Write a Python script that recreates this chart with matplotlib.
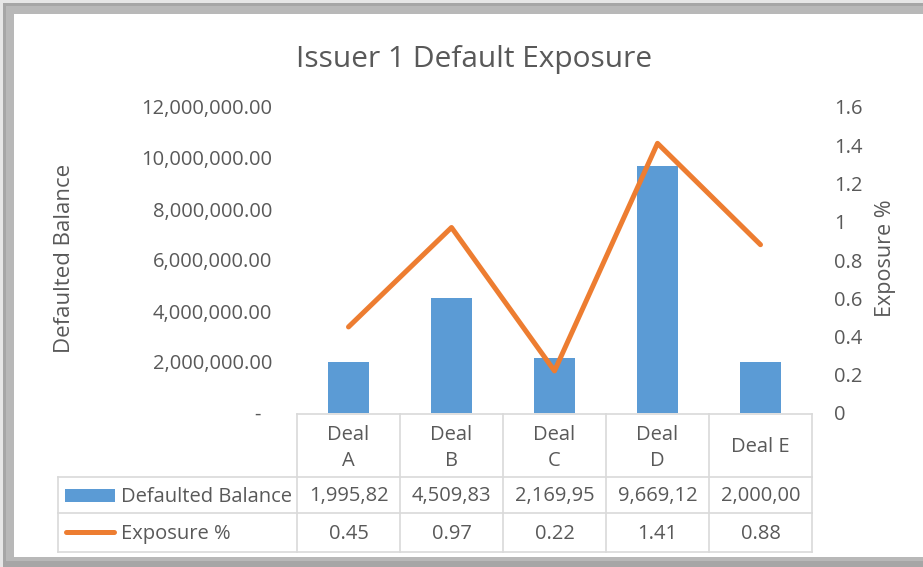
import matplotlib
matplotlib.use("Agg")
import matplotlib.pyplot as plt
from matplotlib.patches import Rectangle
from matplotlib.lines import Line2D

# ---------------- data ----------------
categories = ["Deal A", "Deal B", "Deal C", "Deal D", "Deal E"]
header_labels = ["Deal\nA", "Deal\nB", "Deal\nC", "Deal\nD", "Deal E"]
balances = [1995823, 4509834, 2169952, 9669125, 2000000]
exposure = [0.45, 0.97, 0.22, 1.41, 0.88]
left_ticks = [0, 2e6, 4e6, 6e6, 8e6, 10e6, 12e6]
right_ticks = [0, 0.2, 0.4, 0.6, 0.8, 1.0, 1.2, 1.4, 1.6]
right_tick_labels = ["0", "0.2", "0.4", "0.6", "0.8", "1", "1.2", "1.4", "1.6"]
series_names = ["Defaulted Balance", "Exposure %"]
title = "Issuer 1 Default Exposure"

# ---------------- style ----------------
W, H, DPI = 923, 567, 100
BLUE = "#5B9BD5"
ORANGE = "#ED7D31"
TXT = "#595959"
GRID = "#D9D9D9"
FONT = ["Open Sans", "DejaVu Sans"]
plt.rcParams["font.family"] = FONT

fig = plt.figure(figsize=(W / DPI, H / DPI), dpi=DPI)
fig.patch.set_facecolor("white")

def fx(x):
    return x / W

def fy(y):
    return 1 - y / H

# frame border (screenshot chrome)
border = fig.add_axes([0, 0, 1, 1], zorder=-5)
border.set_xlim(0, W)
border.set_ylim(H, 0)
border.axis("off")
border.add_patch(Rectangle((0, 0), W, H, color="#E6E6E6", lw=0))
border.add_patch(Rectangle((3, 3), W, H - 3, color="#A6A6A6", lw=0))
border.add_patch(Rectangle((6, 6), W, H - 6 - 6, color="#B8B8B8", lw=0))
border.add_patch(Rectangle((14, 14), W, H - 14 - 10, color="white", lw=0))

# plot area
PL, PR, PT, PB = 297, 812, 107, 413
ax = fig.add_axes([fx(PL), fy(PB), fx(PR - PL), (PB - PT) / H])
x = list(range(len(categories)))
ax.bar(x, balances, width=0.4, color=BLUE, zorder=2)
ax.set_xlim(-0.5, len(categories) - 0.5)
ax.set_ylim(0, 12e6)
ax.set_yticks(left_ticks)
ax.set_yticklabels([("-  " if v == 0 else f"{v:,.2f}") for v in left_ticks])
ax.set_xticks([])
ax.tick_params(axis="y", length=0, pad=18, labelsize=14.5, labelcolor=TXT)
for s in ax.spines.values():
    s.set_visible(False)
ax.patch.set_alpha(0)

ax2 = ax.twinx()
ax2.plot(x, exposure, color=ORANGE, lw=3.6, solid_capstyle="round",
         solid_joinstyle="round", zorder=3)
ax2.set_ylim(0, 1.6)
ax2.set_yticks(right_ticks)
ax2.set_yticklabels(right_tick_labels)
ax2.tick_params(axis="y", length=0, pad=16, labelsize=14.5, labelcolor=TXT)
for s in ax2.spines.values():
    s.set_visible(False)

# titles
fig.text(fx(474), fy(59), title, ha="center", va="center", fontsize=21.5, color=TXT)
fig.text(fx(65), fy(258), "Defaulted Balance", rotation=90, ha="center",
         va="center", fontsize=16, color=TXT)
fig.text(fx(886), fy(258), "Exposure %", rotation=90, ha="center",
         va="center", fontsize=15.5, color=TXT)

# ---------------- data table ----------------
TL = 58           # legend column left
ROWS = [414, 477, 513, 552]
col_w = (PR - PL) / len(categories)
cols = [PL + i * col_w for i in range(len(categories) + 1)]

def hline(x0, x1, y):
    fig.add_artist(Line2D([fx(x0), fx(x1)], [fy(y), fy(y)], color=GRID, lw=1.2))

def vline(x0, y0, y1):
    fig.add_artist(Line2D([fx(x0), fx(x0)], [fy(y0), fy(y1)], color=GRID, lw=1.2))

hline(PL, PR, ROWS[0])
for y in ROWS[1:]:
    hline(TL, PR, y)
for c in cols:
    vline(c, ROWS[0], ROWS[3])
vline(TL, ROWS[1], ROWS[3])

fs_tab = 14.5
for i, lab in enumerate(header_labels):
    cx = (cols[i] + cols[i + 1]) / 2
    fig.text(fx(cx), fy((ROWS[0] + ROWS[1]) / 2 + 2), lab, ha="center", va="center",
             fontsize=fs_tab, color=TXT, linespacing=1.4)
    bal_txt = f"{balances[i]:,.2f}"[:8]
    fig.text(fx(cx), fy((ROWS[1] + ROWS[2]) / 2 + 1.5), bal_txt, ha="center",
             va="center", fontsize=fs_tab, color=TXT)
    fig.text(fx(cx), fy((ROWS[2] + ROWS[3]) / 2 + 1.5), f"{exposure[i]:.2f}",
             ha="center", va="center", fontsize=fs_tab, color=TXT)

# legend keys
fig.add_artist(Rectangle((fx(65), fy(502)), fx(115 - 65), (502 - 489) / H,
                         color=BLUE, lw=0))
fig.add_artist(Line2D([fx(66), fx(114)], [fy(532), fy(532)], color=ORANGE,
                      lw=3.6, solid_capstyle="round"))
fig.text(fx(121), fy((ROWS[1] + ROWS[2]) / 2 + 1.5), series_names[0], ha="left",
         va="center", fontsize=fs_tab, color=TXT)
fig.text(fx(121), fy((ROWS[2] + ROWS[3]) / 2 + 1.5), series_names[1], ha="left",
         va="center", fontsize=fs_tab, color=TXT)

fig.savefig("out.png", dpi=DPI)
